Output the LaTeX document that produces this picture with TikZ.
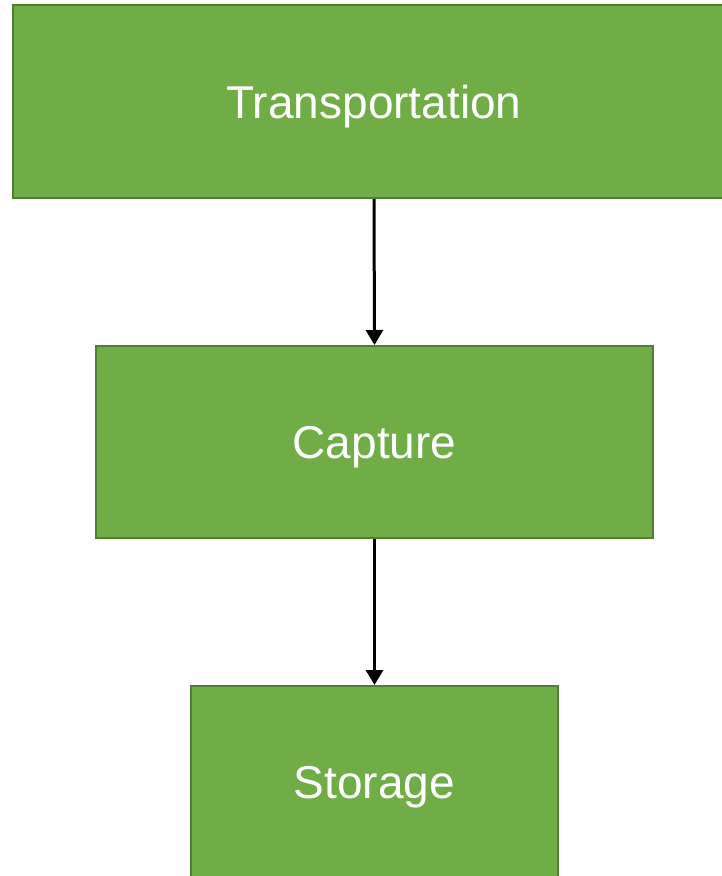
\documentclass[tikz,border=0pt]{standalone}
\usepackage{fontspec}
\setmainfont{Liberation Sans}
\usetikzlibrary{arrows.meta, positioning}
\definecolor{boxgreen}{HTML}{70AD47}
\definecolor{boxedge}{HTML}{507E32}
\tikzset{stage/.style = {draw = boxedge, line width = 2pt, fill = boxgreen, text = white,
    inner sep = 0pt, text depth = 0pt, font = \fontsize{46}{50}\selectfont}}
\tikzset{flow/.style = {line width = 3pt, -{Triangle[width = 17pt, length = 15pt]}}}

\begin{document}
\begin{tikzpicture}[x = 1pt, y = -1pt]
\useasboundingbox (0,0) rectangle (722,876);
\node[stage, minimum width = 722pt, minimum height = 193pt] (transport) at (374,101.5) {Transportation};
\node[stage, minimum width = 557pt, minimum height = 192pt] (capture) at (374.5,442) {Capture};
\node[stage, minimum width = 367pt, minimum height = 192pt] (storage) at (374.5,782) {Storage};
\draw[flow] (transport.south) -- (capture.north);
\draw[flow] (capture.south) -- (storage.north);
\end{tikzpicture}
\end{document}
